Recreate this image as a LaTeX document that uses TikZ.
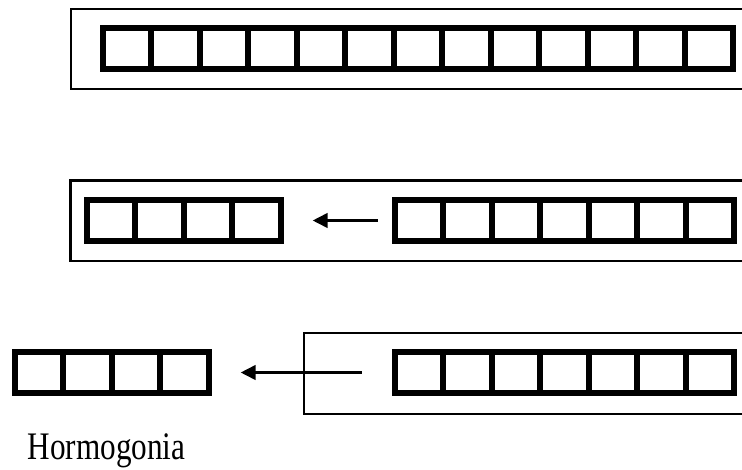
\documentclass[tikz,border=0pt]{standalone}
\usepackage{fontspec}
\setmainfont{Liberation Serif}
\usepackage{tikz}
\usetikzlibrary{arrows.meta}

\begin{document}
\begin{tikzpicture}[x=1pt, y=-1pt,
    cell/.style={draw, line width=6pt, minimum width=48.5pt, minimum height=41pt, inner sep=0pt},
    sheath/.style={line width=2.5pt},
    split/.style={line width=3.6pt, -{Triangle[length=15pt, width=14pt]}}]
    \useasboundingbox (0,0) rectangle (742,469);

    % Whole filament in its sheath
    \draw[sheath] (742,9) -| (71,89) -- (742,89);
    \foreach \i in {1,...,13}
        \node[cell] (t\i) at ({78.25+\i*48.5}, 48.5) {};

    % Filament breaking inside the sheath
    \draw[sheath] (742,180.5) -| (70.5,261) -- (742,261);
    \foreach \i in {1,...,4}
        \node[cell] (a\i) at ({62.25+\i*48.5}, 220.5) {};
    \foreach \i in {1,...,7}
        \node[cell] (b\i) at ({370.25+\i*48.5}, 220.5) {};
    \draw[split, shorten <=14pt, shorten >=29pt] (b1.west) -- (a4.east);

    % Hormogonia leaving the sheath
    \draw[sheath] (742,333) -| (304,414) -- (742,414);
    \foreach \i in {1,...,4}
        \node[cell] (h\i) at ({-9.75+\i*48.5}, 372.5) {};
    \foreach \i in {1,...,7}
        \node[cell] (c\i) at ({370.25+\i*48.5}, 372.5) {};
    \draw[split, shorten <=30pt, shorten >=29pt] (c1.west) -- (h4.east);

    \node[anchor=base, xscale=0.8, font=\fontsize{39}{44}\selectfont, inner sep=0pt] (name) at (106.5,459) {Hormogonia};
\end{tikzpicture}
\end{document}
